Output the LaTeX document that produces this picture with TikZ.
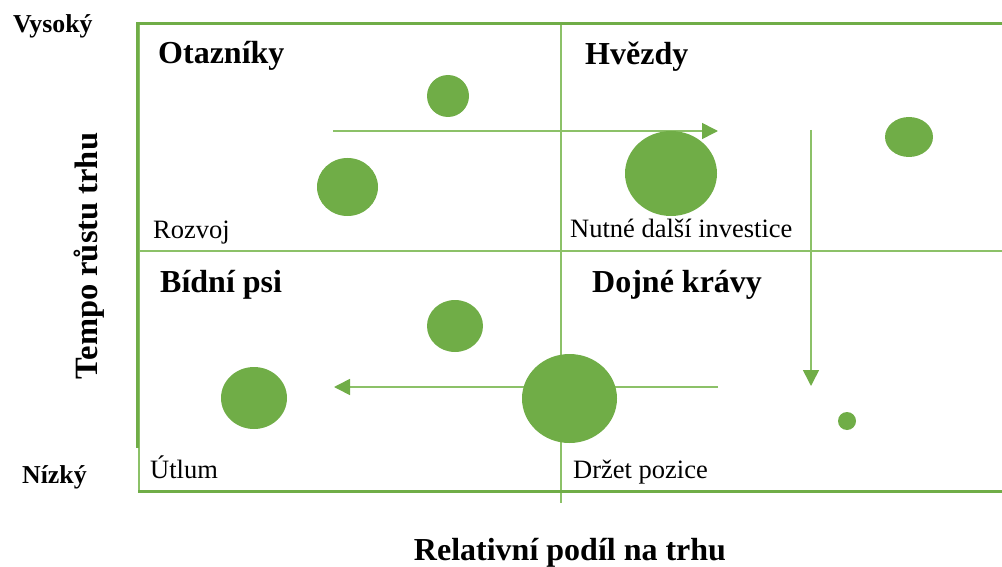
\documentclass[tikz,border=0pt]{standalone}
\usepackage{fontspec}
\setmainfont{Liberation Serif}
\usetikzlibrary{arrows.meta,shapes.geometric}
\definecolor{bcggreen}{HTML}{70AD47}
\definecolor{bcglight}{HTML}{8CC168}
\tikzset{
  frameline/.style={draw=bcggreen,line width=3pt},
  gridline/.style={draw=bcglight,line width=1.6pt},
  flowarrow/.style={draw=bcglight,line width=1.6pt,-{Triangle[length=16pt,width=16pt,color=bcggreen]}},
  bubble/.style={ellipse,fill=bcggreen,draw=none,inner sep=0pt},
  title/.style={font=\fontsize{32}{36}\selectfont\bfseries,inner sep=0pt,anchor=base west},
  level/.style={font=\fontsize{25.8}{30}\selectfont\bfseries,inner sep=0pt,anchor=base west},
  note/.style={font=\fontsize{26.5}{30}\selectfont,inner sep=0pt,anchor=base west},
}
\begin{document}
\begin{tikzpicture}[x=1pt,y=-1pt]
\useasboundingbox (0,0) rectangle (1002,567);
% grid lines
\draw[gridline] (139,24) -- (139,491);
\draw[gridline] (137,251) -- (1002,251);
\draw[gridline] (561,22) -- (561,503);
% frame
\draw[frameline] (137,24) -- (1002,24);
\draw[frameline] (137,22.5) -- (137,448);
\draw[frameline] (138,491) -- (1002,491);
% arrows
\coordinate (a1s) at (333,131);
\coordinate (a1e) at (718,131);
\coordinate (a2s) at (811,130);
\coordinate (a2e) at (811,386);
\coordinate (a3s) at (718,387);
\coordinate (a3e) at (334,387);
\draw[flowarrow] (a1s) -- (a1e);
\draw[flowarrow] (a2s) -- (a2e);
\draw[flowarrow] (a3s) -- (a3e);
% bubbles
\node[bubble,minimum width=42pt,minimum height=42pt] (q1) at (448,96) {};
\node[bubble,minimum width=61pt,minimum height=58pt] (q2) at (347.5,187) {};
\node[bubble,minimum width=92pt,minimum height=85pt] (s1) at (671,173.5) {};
\node[bubble,minimum width=48pt,minimum height=40pt] (s2) at (909,137) {};
\node[bubble,minimum width=56pt,minimum height=52pt] (d1) at (455,326) {};
\node[bubble,minimum width=66pt,minimum height=62pt] (d2) at (254,398) {};
\node[bubble,minimum width=95pt,minimum height=89pt] (c1) at (569.5,398.5) {};
\node[bubble,minimum width=18pt,minimum height=18pt] (c2) at (847,421) {};
% quadrant titles
\node[title] (t1) at (158,64) {Otazníky};
\node[title] (t2) at (585,65) {Hvězdy};
\node[title] (t3) at (160,292) {Bídní psi};
\node[title] (t4) at (592,292) {Dojné krávy};
% notes
\node[note] (n1) at (153,238) {Rozvoj};
\node[note] (n2) at (570,237) {Nutné další investice};
\node[note] (n3) at (150,478) {Útlum};
\node[note] (n4) at (573,478) {Držet pozice};
% axis levels
\node[level] (hi) at (13,33) {Vysoký};
\node[level] (lo) at (22,483) {Nízký};
% axis titles
\node[font=\fontsize{32.5}{36}\selectfont\bfseries,inner sep=0pt,anchor=base,rotate=90] (ya) at (97,256) {Tempo růstu trhu};
\node[font=\fontsize{32}{36}\selectfont\bfseries,inner sep=0pt,anchor=base] (xa) at (570,560) {Relativní podíl na trhu};
\end{tikzpicture}
\end{document}
